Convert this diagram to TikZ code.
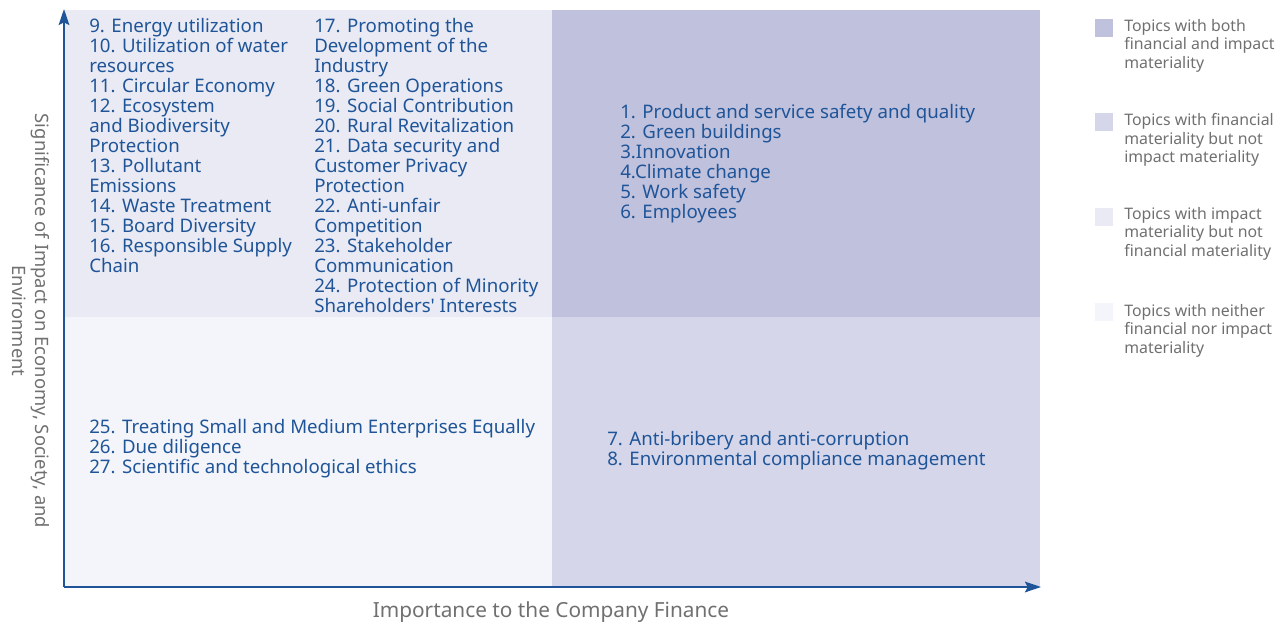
\documentclass[tikz,border=0pt]{standalone}
\usepackage{fontspec}
\setmainfont{Noto Sans}
\usetikzlibrary{arrows.meta}

\definecolor{topicblue}{HTML}{1F5598}
\definecolor{axisgray}{HTML}{707070}
\definecolor{quadBoth}{HTML}{C0C1DD}
\definecolor{quadFin}{HTML}{D5D6EA}
\definecolor{quadImp}{HTML}{E9EAF4}
\definecolor{quadNone}{HTML}{F4F5FA}

\begin{document}
\begin{tikzpicture}[x=0.75pt,y=-0.75pt,
    topic/.style={anchor=north west,inner sep=0pt,align=left,text=topicblue,
        font=\fontsize{14}{15}\selectfont},
    legendbox/.style={minimum size=13.5pt,inner sep=0pt,anchor=north west},
    legendtext/.style={anchor=north west,inner sep=0pt,align=left,text=axisgray,
        font=\fontsize{11.9}{14}\selectfont},
    axislabel/.style={text=axisgray,inner sep=0pt,align=center}]
    \useasboundingbox (0,0) rectangle (1280,624);

    % Quadrants
    \fill[quadImp]  (64,10)  rectangle (552,317);
    \fill[quadBoth] (552,10) rectangle (1040,317);
    \fill[quadNone] (64,317) rectangle (552,587);
    \fill[quadFin]  (552,317) rectangle (1040,587);

    % Axes
    \coordinate (origin) at (64,587);
    \coordinate (ytip) at (64,9);
    \coordinate (xtip) at (1041,587);
    \draw[topicblue,line width=1.5pt,-{Stealth[length=12pt,width=8pt,inset=2pt]}] (origin) -- (ytip);
    \draw[topicblue,line width=1.5pt,-{Stealth[length=12pt,width=8pt,inset=2pt]}] (origin) -- (xtip);
    \node[axislabel,font=\fontsize{15.6}{17}\selectfont] (xlabel) at (551,612) {Importance to the Company Finance};
    \node[axislabel,rotate=-90,font=\fontsize{13.8}{17}\selectfont] (ylabel) at (31,321)
        {Significance of Impact on Economy, Society, and\\Environment};

    % Impact materiality only
    \node[topic] (impA) at (89,18) {9. Energy utilization\\10. Utilization of water\\resources\\11. Circular Economy\\12. Ecosystem\\and Biodiversity\\Protection\\13. Pollutant\\Emissions\\14. Waste Treatment\\15. Board Diversity\\16. Responsible Supply\\Chain};
    \node[topic] (impB) at (314,18) {17. Promoting the\\Development of the\\Industry\\18. Green Operations\\19. Social Contribution\\20. Rural Revitalization\\21. Data security and\\Customer Privacy\\Protection\\22. Anti-unfair\\Competition\\23. Stakeholder\\Communication\\24. Protection of Minority\\Shareholders\textquotesingle\ Interests};

    % Both
    \node[topic] (both) at (620,104) {1. Product and service safety and quality\\2. Green buildings\\3.Innovation\\4.Climate change\\5. Work safety\\6. Employees};

    % Neither
    \node[topic] (none) at (89,419) {25. Treating Small and Medium Enterprises Equally\\26. Due diligence\\27. Scientific and technological ethics};

    % Financial only
    \node[topic] (fin) at (607,431) {7. Anti-bribery and anti-corruption\\8. Environmental compliance management};

    % Legend
    \node[legendbox,fill=quadBoth] (keyBoth) at (1095,19) {};
    \node[legendbox,fill=quadFin]  (keyFin)  at (1095,113) {};
    \node[legendbox,fill=quadImp]  (keyImp)  at (1095,208) {};
    \node[legendbox,fill=quadNone] (keyNone) at (1095,303) {};
    \node[legendtext] (txtBoth) at (1124,19) {Topics with both\\financial and impact\\materiality};
    \node[legendtext] (txtFin)  at (1124,113) {Topics with financial\\materiality but not\\impact materiality};
    \node[legendtext] (txtImp)  at (1124,207) {Topics with impact\\materiality but not\\financial materiality};
    \node[legendtext] (txtNone) at (1124,304) {Topics with neither\\financial nor impact\\materiality};
\end{tikzpicture}
\end{document}
